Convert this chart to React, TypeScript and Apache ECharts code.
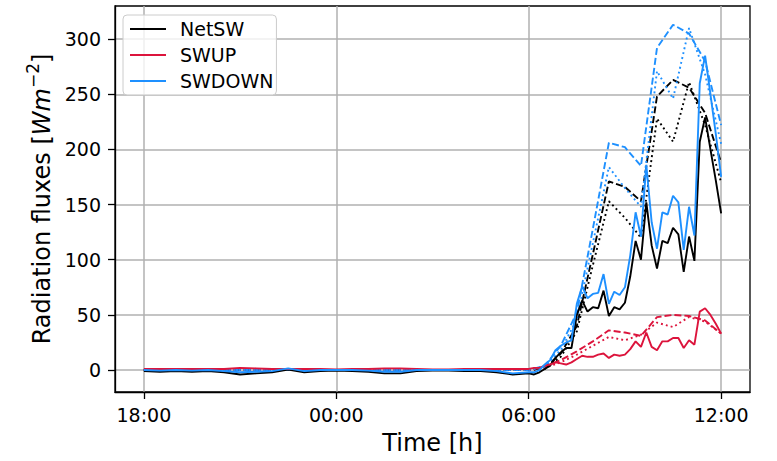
import React, { useEffect, useRef } from "react";
import * as echarts from "echarts";

// ---- data (hours since 18:00) ----
const xTickHours = [0, 6, 12, 18];
const xTickLabels = ["18:00", "00:00", "06:00", "12:00"];
const yTickValues = [0, 50, 100, 150, 200, 250, 300];

// observations: half-hourly during the night (0 .. 11.5 h), 10-minutely in the morning (12 .. 18 h)
const nightHours = Array.from({ length: 24 }, (_, i) => i * 0.5);
const dayHours = Array.from({ length: 37 }, (_, i) => 12 + i / 6);
const obsHours = [...nightHours, ...dayHours];

const netSWObs = [
  -1, -1.5, -1, -1.5, -1, -2, -4, -3, -2, 0.5, -2, -1, -0.5, -1, -1.5, -3, -3, -1, -0.5, -0.5, -1, -1, -2, -4,
  -3, -4, -2, 1, 4, 11, 16, 20, 20, 50, 63, 53, 57, 56, 72, 49, 57, 55, 61, 85, 117, 100, 152, 113, 92, 117, 115,
  129, 123, 89, 121, 99, 207, 229, 200, 172, 142,
];
const swUpObs = [
  1, 1, 1, 1, 1, 1, 2, 1.5, 1, 1, 1, 1, 0.5, 1, 1, 1.5, 1.5, 1, 0.5, 0.5, 1, 1, 1, 1,
  1, 2, 2, 4, 5, 7, 6, 5, 7, 10, 13, 12, 12, 14, 15, 11, 14, 13, 14, 19, 26, 21, 34, 21, 18, 26, 26,
  29, 29, 20, 27, 23, 53, 56, 50, 42, 33,
];
const swDownObs = [
  0, -0.5, 0, -0.5, 0, -1, -2, -1.5, -1, 1.5, -1, 0, 0, 0, -0.5, -1.5, -1.5, 0, 0, 0, 0, 0, -1, -3,
  -2, -2, 0, 5, 9, 18, 22, 25, 27, 60, 76, 65, 69, 70, 87, 60, 71, 68, 75, 104, 143, 121, 186, 134, 110, 143, 141,
  158, 152, 109, 148, 122, 260, 285, 250, 214, 175,
];

// model runs: half-hourly (0 .. 18 h)
const modelHours = Array.from({ length: 37 }, (_, i) => i * 0.5);
const netSWDashed = [
  0, 0, 0, 0, 0, 0, 0, 0, 0, 0, 0, 0, 0, 0, 0, 0, 0, 0, 0, 0, 0, 0, 0, 0,
  0, 2, 15, 40, 105, 171, 166, 153, 248, 263, 256, 233, 188,
];
const netSWDotted = [
  0, 0, 0, 0, 0, 0, 0, 0, 0, 0, 0, 0, 0, 0, 0, 0, 0, 0, 0, 0, 0, 0, 0, 0,
  0, 1, 12, 35, 95, 153, 138, 120, 228, 207, 261, 222, 170,
];
const swUpDashed = [
  0, 0, 0, 0, 0, 0, 0, 0, 0, 0, 0, 0, 0, 0, 0, 0, 0, 0, 0, 0, 0, 0, 0, 0,
  0, 3, 9, 17, 26, 36, 34, 31, 48, 50, 49, 45, 33,
];
const swUpDotted = [
  0, 0, 0, 0, 0, 0, 0, 0, 0, 0, 0, 0, 0, 0, 0, 0, 0, 0, 0, 0, 0, 0, 0, 0,
  0, 2, 7, 14, 22, 30, 27, 32, 43, 39, 48, 44, 33,
];
const swDownDashed = [
  0, 0, 0, 0, 0, 0, 0, 0, 0, 0, 0, 0, 0, 0, 0, 0, 0, 0, 0, 0, 0, 0, 0, 0,
  0, 4, 22, 52, 128, 206, 202, 185, 292, 313, 305, 280, 222,
];
const swDownDotted = [
  0, 0, 0, 0, 0, 0, 0, 0, 0, 0, 0, 0, 0, 0, 0, 0, 0, 0, 0, 0, 0, 0, 0, 0,
  0, 3, 18, 46, 115, 184, 165, 148, 271, 246, 310, 268, 205,
];

const legendNames = ["NetSW", "SWUP", "SWDOWN"];

const FONT = "'DejaVu Sans', sans-serif";
const C_NET = "#000000";
const C_UP = "#dc143c";
const C_DOWN = "#1e90ff";
const DASH = [7, 3];
const DOT = [1.9, 3.1];

const zip = (xs: number[], ys: number[]) => xs.map((x, i) => [x, ys[i]]);

function lineSeries(name: string, color: string, xs: number[], ys: number[], type: any, z: number) {
  return {
    name,
    type: "line",
    data: zip(xs, ys),
    symbol: "none",
    showSymbol: false,
    z,
    itemStyle: { color },
    lineStyle: { color, width: 1.9, type },
    emphasis: { disabled: true },
  };
}

export default function App() {
  const ref = useRef<HTMLDivElement>(null);
  useEffect(() => {
    if (!ref.current) return;
    const chart = echarts.init(ref.current, undefined, { renderer: "svg" });
    const axisText = { fontSize: 19, color: "#000", fontFamily: FONT };
    chart.setOption({
      animation: false,
      backgroundColor: "#fff",
      grid: {
        left: 115,
        right: 27,
        top: 6,
        bottom: 69,
        show: true,
        borderColor: "#000",
        borderWidth: 1.3,
        backgroundColor: "transparent",
      },
      legend: {
        data: legendNames.map((n) => ({ name: n, icon: "rect" })),
        orient: "vertical",
        left: 123,
        top: 15,
        itemWidth: 36,
        itemHeight: 2,
        itemGap: 4,
        padding: [3, 3, 3, 7],
        backgroundColor: "rgba(255,255,255,0.8)",
        borderColor: "#cccccc",
        borderWidth: 1,
        borderRadius: 4,
        itemStyle: { borderWidth: 0 },
        textStyle: { fontSize: 19, color: "#000", fontFamily: FONT, lineHeight: 22, padding: [0, 0, 0, 9] },
      },
      xAxis: {
        type: "value",
        min: -0.9,
        max: 18.9,
        axisLine: { show: true, onZero: false, lineStyle: { color: "#000", width: 1.3 } },
        axisTick: { show: true, length: 7, customValues: xTickHours, lineStyle: { color: "#000", width: 1.3 } },
        axisLabel: {
          ...axisText,
          customValues: xTickHours,
          margin: 13,
          formatter: (v: number) => {
            const i = xTickHours.indexOf(Math.round(v * 1000) / 1000);
            return i >= 0 ? xTickLabels[i] : "";
          },
        },
        splitLine: { show: true, lineStyle: { color: "#b0b0b0", width: 1.5 } },
        name: "Time [h]",
        nameLocation: "middle",
        nameGap: 39,
        nameTextStyle: { fontSize: 24, color: "#000", fontFamily: FONT },
      },
      yAxis: {
        type: "value",
        min: -19.9,
        max: 330,
        axisLine: { show: true, onZero: false, lineStyle: { color: "#000", width: 1.3 } },
        axisTick: { show: true, length: 7, customValues: yTickValues, lineStyle: { color: "#000", width: 1.3 } },
        axisLabel: { ...axisText, customValues: yTickValues, margin: 14 },
        splitLine: { show: true, lineStyle: { color: "#b0b0b0", width: 1.5 } },
        name: "{a|Radiation fluxes [}{b|Wm}{c|−2}{a|]}",
        nameLocation: "middle",
        nameGap: 60,
        nameTextStyle: {
          color: "#000",
          fontFamily: FONT,
          fontSize: 24,
          rich: {
            a: { fontSize: 24, fontFamily: FONT, color: "#000", lineHeight: 29, verticalAlign: "bottom" },
            b: { fontSize: 24, fontFamily: FONT, color: "#000", fontStyle: "italic", lineHeight: 29, verticalAlign: "bottom" },
            c: { fontSize: 17, fontFamily: FONT, color: "#000", lineHeight: 29, verticalAlign: "top" },
          },
        },
      },
      series: [
        lineSeries("NetSW", C_NET, obsHours, netSWObs, "solid", 3),
        lineSeries("SWUP", C_UP, obsHours, swUpObs, "solid", 3),
        lineSeries("SWDOWN", C_DOWN, obsHours, swDownObs, "solid", 3),
        lineSeries("NetSW run A", C_NET, modelHours, netSWDashed, DASH, 2),
        lineSeries("SWUP run A", C_UP, modelHours, swUpDashed, DASH, 2),
        lineSeries("SWDOWN run A", C_DOWN, modelHours, swDownDashed, DASH, 2),
        lineSeries("NetSW run B", C_NET, modelHours, netSWDotted, DOT, 2),
        lineSeries("SWUP run B", C_UP, modelHours, swUpDotted, DOT, 2),
        lineSeries("SWDOWN run B", C_DOWN, modelHours, swDownDotted, DOT, 2),
      ],
    });
    return () => chart.dispose();
  }, []);
  return (
    <div
      ref={ref}
      style={{ position: "fixed", left: 0, top: 0, width: 777, height: 461, background: "#fff" }}
    />
  );
}
